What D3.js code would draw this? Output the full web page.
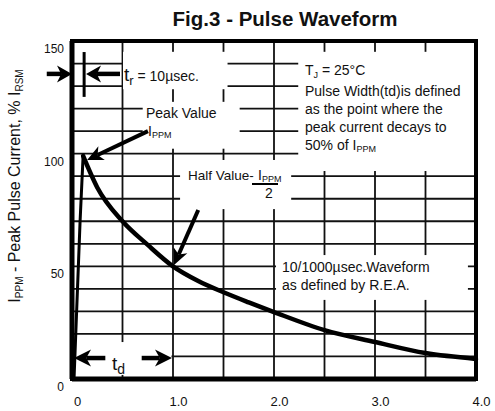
<!DOCTYPE html>
<html>
<head>
<meta charset="utf-8">
<script src="https://cdn.jsdelivr.net/npm/d3@7/dist/d3.min.js"></script>
<style>
body { margin: 0; background: #fff; }
svg text { font-family: "Liberation Sans", Arial, sans-serif; fill: #111; }
</style>
</head>
<body>
<svg id="chart" width="495" height="411"></svg>
<script>
// 10/1000us waveform (time in ms, current in % of Ippm)
var timeMs     = [0.02, 0.05, 0.08, 0.11, 0.25, 0.5, 0.75, 1.0, 1.25, 1.5, 1.75, 2.0, 2.5, 3.0, 3.5, 4.0];
var currentPct = [0, 35, 70, 99, 85, 70, 59.5, 50, 43.5, 38.5, 34, 29.7, 21.7, 16.4, 11.5, 8.9];
var riseCount = 4;

var xTicks = [0, 1, 2, 3, 4];
var yTicks = [0, 50, 100, 150];
var xGrid = [0.5, 1, 1.5, 2, 2.5, 3, 3.5];
var yGrid = [10, 20, 30, 40, 50, 60, 70, 80, 90, 100, 110, 120, 130, 140];

var margin = {top: 41, right: 19, bottom: 32, left: 72};
var width = 495, height = 411;

var svg = d3.select("#chart");

var x = d3.scaleLinear().domain([0, 4]).range([margin.left, width - margin.right]);
var y = d3.scaleLinear().domain([0, 150]).range([height - margin.bottom, margin.top]);

// grid
var grid = svg.append("g").attr("stroke", "#111").attr("stroke-width", 1.8);
grid.selectAll(".vg").data(xGrid).enter().append("line")
    .attr("x1", function (d) { return x(d); }).attr("x2", function (d) { return x(d); })
    .attr("y1", y(0)).attr("y2", y(150));
grid.selectAll(".hg").data(yGrid).enter().append("line")
    .attr("x1", x(0)).attr("x2", x(4))
    .attr("y1", function (d) { return y(d); }).attr("y2", function (d) { return y(d); });

// white boxes behind the annotations (data units)
var boxes = [
    {t0: 0.505, t1: 1.54, v0: 128.6, v1: 145.2},   // tr
    {t0: 0.70, t1: 1.66, v0: 102.2, v1: 123.0},    // peak value
    {t0: 2.24, t1: 4.0, v0: 92.3, v1: 145.2},      // text top right
    {t0: 1.07, t1: 2.17, v0: 75.4, v1: 97.2},      // half value
    {t0: 2.02, t1: 3.92, v0: 35.1, v1: 55.0},      // 10/1000 text
    {t0: 0.015, t1: 0.985, v0: 1.8, v1: 16.4}      // td
];
svg.append("g").selectAll("rect").data(boxes).enter().append("rect")
    .attr("x", function (d) { return x(d.t0); })
    .attr("y", function (d) { return y(d.v1); })
    .attr("width", function (d) { return x(d.t1) - x(d.t0); })
    .attr("height", function (d) { return y(d.v0) - y(d.v1); })
    .attr("fill", "#fff");

// frame
svg.append("rect")
    .attr("x", x(0)).attr("y", y(150))
    .attr("width", x(4) - x(0)).attr("height", y(0) - y(150))
    .attr("fill", "none").attr("stroke", "#000").attr("stroke-width", 4);
svg.append("line").attr("x1", x(0)).attr("x2", x(4)).attr("y1", y(0)).attr("y2", y(0))
    .attr("stroke", "#000").attr("stroke-width", 5);
svg.append("line").attr("x1", x(0)).attr("x2", x(0)).attr("y1", y(0)).attr("y2", y(150))
    .attr("stroke", "#000").attr("stroke-width", 5);

// axes labels
svg.append("g")
    .attr("transform", "translate(5," + (y(0) + 27) + ")")
    .call(d3.axisBottom(x).tickValues(xTicks).tickSize(0)
        .tickFormat(function (d) { return d === 0 ? "0" : d3.format(".1f")(d); }))
    .call(function (g) { g.select(".domain").remove(); })
    .selectAll("text").attr("y", 0).attr("dy", 0)
    .style("font-size", "13px").attr("font-family", "Liberation Sans, Arial, sans-serif");

svg.append("g")
    .attr("transform", "translate(" + (x(0) - 8) + ",0)")
    .call(d3.axisLeft(y).tickValues(yTicks).tickSize(0))
    .call(function (g) { g.select(".domain").remove(); })
    .selectAll("text").attr("x", 0).attr("dy", "0.95em")
    .style("font-size", "12px").attr("font-family", "Liberation Sans, Arial, sans-serif");

// curve
var pts = timeMs.map(function (t, i) { return [t, currentPct[i]]; });
var line = d3.line().x(function (d) { return x(d[0]); }).y(function (d) { return y(d[1]); });
svg.append("path").datum(pts.slice(0, riseCount))
    .attr("d", line).attr("fill", "none").attr("stroke", "#000").attr("stroke-width", 3);
svg.append("path").datum(pts.slice(riseCount - 1))
    .attr("d", line.curve(d3.curveMonotoneX)).attr("fill", "none")
    .attr("stroke", "#000").attr("stroke-width", 4.5).attr("stroke-linecap", "round");

// arrows
function arrow(t1, v1, t2, v2, len, wid, sw) {
    var x1 = x(t1), y1 = y(v1), x2 = x(t2), y2 = y(v2);
    var dx = x2 - x1, dy = y2 - y1, L = Math.sqrt(dx * dx + dy * dy);
    var ux = dx / L, uy = dy / L, px = -uy, py = ux;
    var bx = x2 - ux * len, by = y2 - uy * len;
    var nx = x2 - ux * len * 0.72, ny = y2 - uy * len * 0.72;
    svg.append("line").attr("x1", x1).attr("y1", y1).attr("x2", nx).attr("y2", ny)
        .attr("stroke", "#000").attr("stroke-width", sw);
    svg.append("path")
        .attr("d", "M" + x2 + "," + y2 +
            "L" + (bx + px * wid / 2) + "," + (by + py * wid / 2) +
            "L" + nx + "," + ny +
            "L" + (bx - px * wid / 2) + "," + (by - py * wid / 2) + "Z")
        .attr("fill", "#000");
}
arrow(-0.25, 135.4, 0, 135.4, 15, 17, 4.5);
arrow(0.475, 135.4, 0.139, 135.4, 15, 17, 4.5);
arrow(0.752, 110, 0.15, 97.2, 16, 15, 4);
arrow(1.25, 75, 1.01, 50.6, 16, 15, 4);
arrow(0.33, 9.3, 0.02, 9.3, 17, 17, 4.5);
arrow(0.69, 9.3, 0.99, 9.3, 17, 17, 4.5);

// tr marker
svg.append("line").attr("x1", x(0.12)).attr("x2", x(0.12))
    .attr("y1", y(145.1)).attr("y2", y(125.2))
    .attr("stroke", "#000").attr("stroke-width", 3);

// title
svg.append("text").attr("x", 285).attr("y", 26).attr("text-anchor", "middle")
    .style("font-size", "20.5px").style("font-weight", "bold")
    .text("Fig.3 - Pulse Waveform");

// y label
var yl = svg.append("text").attr("transform", "translate(20,186) rotate(-90)")
    .attr("text-anchor", "middle").style("font-size", "16px");
yl.append("tspan").text("I");
yl.append("tspan").attr("dy", 3).style("font-size", "10px").text("PPM");
yl.append("tspan").attr("dy", -3).text(" - Peak Pulse Current, % I");
yl.append("tspan").attr("dy", 3).style("font-size", "10px").text("RSM");

function label(px, py, size) {
    return svg.append("text").attr("x", px).attr("y", py).style("font-size", size + "px");
}

// tr
var tr = label(124, 81, 19);
tr.append("tspan").text("t");
tr.append("tspan").attr("dy", 4).style("font-size", "13px").text("r");
tr.append("tspan").attr("dy", -4).style("font-size", "14px").text(" = 10\u00b5sec.");

// peak value
label(146, 118, 14).text("Peak Value");
var pk = label(148, 136, 14);
pk.append("tspan").text("I");
pk.append("tspan").attr("dy", 2).style("font-size", "9px").text("PPM");

// half value
label(188, 180, 13.5).text("Half Value-");
var hv = label(258, 180, 14);
hv.append("tspan").text("I");
hv.append("tspan").attr("dy", 2).style("font-size", "9px").text("PPM");
svg.append("line").attr("x1", 252).attr("x2", 278).attr("y1", 184).attr("y2", 184)
    .attr("stroke", "#000").attr("stroke-width", 2);
label(265, 198, 14).attr("text-anchor", "start").text("2");

// right text
var tj = label(305, 75, 14);
tj.append("tspan").text("T");
tj.append("tspan").attr("dy", 3).style("font-size", "9px").text("J");
tj.append("tspan").attr("dy", -3).text(" = 25\u00b0C");
label(305, 96, 14).text("Pulse Width(td)is defined");
label(305, 114, 14).text("as the point where the");
label(305, 132, 14).text("peak current decays to");
var fp = label(305, 150, 14);
fp.append("tspan").text("50% of I");
fp.append("tspan").attr("dy", 2).style("font-size", "9px").text("PPM");

label(282, 272, 14).text("10/1000\u00b5sec.Waveform");
label(282, 290, 14).text("as defined by R.E.A.");

// td
var td = label(112, 370, 19);
td.append("tspan").text("t");
td.append("tspan").attr("dy", 4).style("font-size", "14px").text("d");
</script>
</body>
</html>
